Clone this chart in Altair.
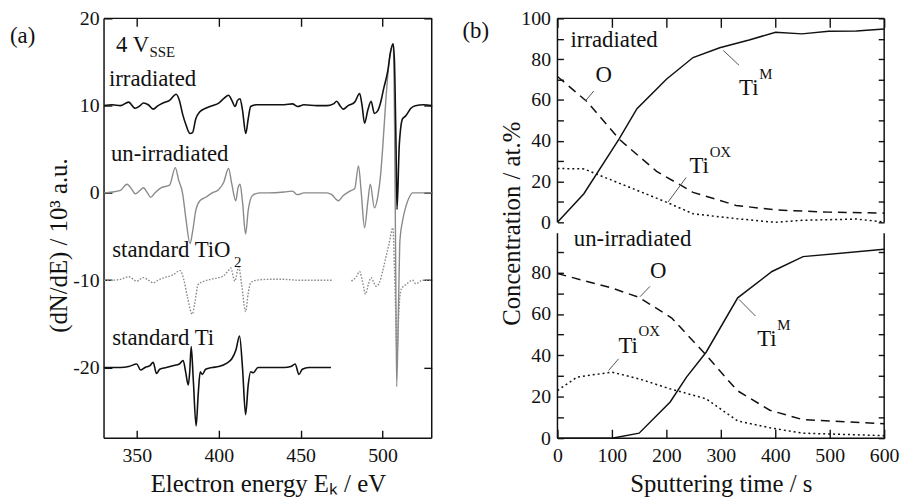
import altair as alt
import pandas as pd

FONT = "Liberation Serif"
INK = "#111111"
GRAY = "#8a8a8a"

# ---------------- panel (a): AES spectra (offset traces) ----------------
IRR_E = [330, 335, 340, 345, 349, 352, 354, 357, 360, 363, 366, 370, 374, 376, 378, 380, 382.5, 384, 386, 388.5,
         392, 396, 400, 403, 406, 408, 410, 411.5, 413, 414.5, 416.5, 418, 419.5, 423, 430, 440, 445, 448, 452, 460,
         466, 470, 472, 474, 476, 479, 483, 486, 487.5, 489, 491, 493, 495, 497, 499, 500.6, 503.2, 504.8, 506.4,
         507.2, 508.2, 508.8, 510.2, 512.2, 514, 517.3, 520, 525, 530]
IRR_V = [10.0, 10.1, 10.0, 10.4, 9.7, 10.0, 10.3, 10.1, 9.6, 10.0, 10.3, 10.6, 11.3, 10.6, 9.0, 7.8, 6.8, 6.9, 8.5, 9.3,
         9.7, 10.0, 10.3, 10.8, 11.2, 10.6, 9.9, 10.6, 10.8, 9.5, 6.8, 8.5, 9.9, 10.1, 10.1, 10.1, 10.2, 9.9, 10.1, 10.0,
         10.0, 10.2, 10.5, 10.0, 9.6, 10.0, 10.4, 11.4, 10.0, 8.0, 9.5, 10.5, 9.1, 9.4, 10.5, 11.9, 14.0, 16.1, 17.1,
         15.3, 5.5, -1.9, 5.5, 8.5, 8.8, 9.7, 10.0, 10.1, 10.0]

UN_E = [330, 335, 340, 344, 347, 349, 352, 354, 356.5, 358.5, 361, 365, 370, 373.5, 375.5, 378, 380, 382.5, 384, 386,
        388.5, 392, 396, 400, 403, 406, 408, 410.4, 411.8, 413, 414.5, 416.4, 418, 420.6, 425, 430, 440, 445, 448, 452,
        460, 466, 469, 473, 476, 480, 483, 485.3, 487, 489, 491, 492.5, 495, 497, 499, 500.2, 502.2, 504, 506.5, 507.3,
        508.0, 508.6, 509.8, 510.6, 512.2, 514.3, 516.3, 518.3, 525, 530]
UN_V = [0.0, 0.1, 0.3, 1.0, 0.4, -0.1, 0.3, 0.6, 0.0, -0.5, 0.0, 0.6, 0.9, 2.9, 1.5, -0.1, -3.0, -5.8, -4.5, -2.0,
        -0.9, -0.5, 0.0, 0.4, 1.2, 2.8, 1.0, -0.9, 0.6, 1.0, -1.0, -4.7, -2.0, -0.3, 0.0, 0.0, 0.1, 0.2, -0.2, 0.0,
        0.0, 0.0, -0.2, -0.9, -0.3, 0.2, 0.5, 3.1, 0.0, -4.0, -1.0, 1.0, -1.7, -0.5, 2.5, 5.5, 11.2, 15.0, 17.0, 8.0,
        -8.0, -22.2, -12.2, -5.4, -3.2, -1.5, -0.5, 0.0, 0.0, 0.0]

TIO2_E1 = [330, 335, 340, 345, 350, 354, 357, 360, 363, 367, 372, 376.5, 378.5, 381, 383.8, 385.5, 387.4, 390, 395, 400,
           403, 405.5, 407.3, 409.8, 412.2, 414, 416.4, 418, 419.5, 423, 430, 440, 448, 455, 462, 469]
TIO2_V1 = [-10.0, -10.0, -9.9, -9.6, -10.1, -9.7, -10.0, -10.3, -10.0, -9.7, -9.4, -8.9, -9.8, -12.0, -13.9, -12.5,
           -10.5, -10.2, -9.9, -9.7, -9.5, -9.0, -8.6, -10.1, -8.5, -10.5, -13.6, -11.5, -10.3, -10.0, -9.9, -9.9,
           -10.0, -10.0, -10.0, -10.0]
TIO2_E2 = [481, 484, 486, 487.8, 489.6, 491.3, 493, 494.5, 496, 498, 500, 502, 504, 506.3, 507.3, 508.2, 508.8, 509.6,
           510.5, 511.5, 514.3, 518.3, 520.3, 524.3, 530]
TIO2_V2 = [-10.1, -9.6, -9.0, -10.2, -11.6, -10.5, -9.7, -10.2, -10.7, -10.3, -9.0, -7.4, -5.8, -4.0, -9.0, -15.0,
           -18.5, -15.0, -12.0, -11.0, -10.5, -10.0, -10.4, -10.0, -10.0]

TI_E = [330, 335, 340, 345, 350, 352.3, 355, 358, 360, 362, 364, 368, 372, 376, 378.3, 379.8, 381.4, 382.3, 383.2,
        384.5, 386.2, 387.5, 388.7, 390, 392, 396, 400, 405, 408, 410.5, 412.7, 414.5, 416.4, 418, 419.5, 421, 424,
        430, 440, 444, 446.6, 449, 451, 455, 462, 468.5]
TI_V = [-20.0, -20.0, -20.0, -19.9, -19.6, -20.3, -20.0, -19.8, -19.4, -20.7, -20.2, -20.0, -19.8, -19.6, -19.2,
        -20.5, -22.0, -20.5, -17.6, -21.5, -26.7, -23.0, -20.5, -20.8, -20.2, -20.0, -19.9, -19.5, -19.0, -18.0,
        -16.4, -20.0, -25.4, -22.0, -20.5, -20.6, -20.0, -20.0, -20.0, -19.9, -19.6, -20.8, -20.2, -20.0, -20.0, -20.0]

A_X_TICKS = [350, 400, 450, 500]
A_Y_TICKS = [-20, -10, 0, 10, 20]
A_X_DOMAIN = [330, 530]
A_Y_DOMAIN = [-28.1, 20]

A_TEXT = ["4 V", "irradiated", "un-irradiated", "standard TiO", "standard Ti"]
A_TEXT_X = [337.3, 333.0, 334.2, 335.0, 335.0]
A_TEXT_Y = [16.9, 13.1, 4.4, -6.6, -16.6]
A_SUB = ["SSE", "2"]
A_SUB_X = [357.8, 409.3]
A_SUB_Y = [16.1, -7.9]

# ---------------- panel (b): depth profiles ----------------
UP_TIM_T = [0, 48.5, 113, 146, 200.6, 249, 298, 352, 400.6, 449, 498, 549, 600]
UP_TIM_V = [0, 14.0, 40.8, 55.7, 70.3, 80.8, 85.6, 89.4, 93.2, 92.4, 93.7, 93.8, 94.8]
UP_O_T = [0, 55, 114, 182, 249, 328, 400, 498, 600]
UP_O_V = [71.5, 59.0, 40.6, 25.0, 14.7, 8.3, 6.1, 5.0, 4.5]
UP_TIOX_T = [0, 49, 73, 134, 200, 249, 328, 400, 449, 549, 600]
UP_TIOX_V = [26.4, 26.2, 23.5, 17.0, 9.9, 4.2, 1.8, 0.0, 1.0, 1.6, 0.2]

LO_TIM_T = [0, 100, 150, 207, 237, 273, 331, 394, 451, 600]
LO_TIM_V = [0, 0, 2.4, 17.5, 29.5, 41.5, 67.8, 80.5, 87.7, 91.2]
LO_O_T = [0, 100, 150, 210, 270, 330, 390, 450, 600]
LO_O_V = [79.5, 72.5, 68.0, 58.0, 41.0, 23.0, 13.5, 9.0, 7.0]
LO_TIOX_T = [0, 36, 100, 149, 206, 273, 331, 394, 451, 600]
LO_TIOX_V = [23.0, 29.5, 31.9, 28.7, 23.9, 19.0, 8.3, 4.8, 2.4, 1.2]

B_X_TICKS = [0, 100, 200, 300, 400, 500, 600]
B_UP_Y_TICKS = [0, 10, 20, 30, 40, 50, 60, 70, 80, 90, 100]
B_LO_Y_TICKS = [0, 10, 20, 30, 40, 50, 60, 70, 80, 90]
B_X_DOMAIN = [0, 600]
B_UP_Y_DOMAIN = [0, 100]
B_LO_Y_DOMAIN = [0, 99]

UP_LEAD_X1 = [51.6, 304.4, 203.0]
UP_LEAD_Y1 = [59.6, 84.3, 9.9]
UP_LEAD_X2 = [66.7, 333.5, 236.4]
UP_LEAD_Y2 = [64.4, 77.0, 22.0]
LO_LEAD_X1 = [151.6, 333.5, 94.0]
LO_LEAD_Y1 = [68.3, 67.0, 32.7]
LO_LEAD_X2 = [169.8, 363.6, 112.2]
LO_LEAD_Y2 = [73.3, 59.0, 38.3]

UP_TEXT = ["irradiated", "O", "Ti", "Ti"]
UP_TEXT_X = [24, 70, 333.5, 242.5]
UP_TEXT_Y = [89.6, 72.1, 65.7, 27.6]
UP_SUP = ["M", "OX"]
UP_SUP_X = [370.5, 279.5]
UP_SUP_Y = [72.7, 34.7]
LO_TEXT = ["un-irradiated", "O", "Ti", "Ti"]
LO_TEXT_X = [30, 170, 366.7, 112]
LO_TEXT_Y = [96.0, 80.5, 47.8, 44.6]
LO_SUP = ["M", "OX"]
LO_SUP_X = [403.7, 149]
LO_SUP_Y = [54.8, 51.6]


def axis(orient, values, tick, labels=True, pad=5, title=None, **kw):
    a = dict(orient=orient, values=values, tickSize=tick, offset=-tick, domain=False,
             ticks=True, tickColor=INK, tickWidth=1.4, grid=False, labels=labels,
             labelFont=FONT, labelFontSize=20, labelColor=INK, labelPadding=pad,
             labelFlush=False, labelOverlap=False, title=title,
             titleFont=FONT, titleFontSize=25, titleFontWeight="normal", titleColor=INK)
    a.update(kw)
    return alt.Axis(**a)


def line(df, xs, ys, xaxis=None, yaxis=None, interp="linear", **mk):
    return alt.Chart(df).mark_line(interpolate=interp, **mk).encode(
        x=alt.X("x:Q", scale=xs, axis=xaxis),
        y=alt.Y("y:Q", scale=ys, axis=yaxis),
        detail="seg:N",
    )


def df_line(xv, yv, seg=0):
    return pd.DataFrame({"x": xv, "y": yv, "seg": seg})


def frame(xs, ys, xvals, yvals):
    lay = []
    if xvals:
        lay.append(alt.Chart(pd.DataFrame({"x": xvals})).mark_rule(color=INK, strokeWidth=1.5).encode(
            x=alt.X("x:Q", scale=xs, axis=None)))
    if yvals:
        lay.append(alt.Chart(pd.DataFrame({"y": yvals})).mark_rule(color=INK, strokeWidth=1.5).encode(
            y=alt.Y("y:Q", scale=ys, axis=None)))
    return lay


def texts(labels, xv, yv, xs, ys, size):
    df = pd.DataFrame({"x": xv, "y": yv, "t": labels})
    return alt.Chart(df).mark_text(align="left", baseline="middle", font=FONT, fontSize=size, color=INK).encode(
        x=alt.X("x:Q", scale=xs, axis=None), y=alt.Y("y:Q", scale=ys, axis=None), text="t:N")


def leaders(x1, y1, x2, y2, xs, ys):
    df = pd.DataFrame({"x": x1, "y": y1, "x2": x2, "y2": y2})
    return alt.Chart(df).mark_rule(color="#555555", strokeWidth=1).encode(
        x=alt.X("x:Q", scale=xs, axis=None), y=alt.Y("y:Q", scale=ys, axis=None), x2="x2:Q", y2="y2:Q")


def panel_label(txt, px, py):
    return alt.Chart(pd.DataFrame({"t": [txt]})).mark_text(
        align="left", baseline="middle", font=FONT, fontSize=23, color=INK).encode(
        x=alt.value(px), y=alt.value(py), text="t:N")


HYPHEN = "replace(datum.label, '\u2212', '-')"

# ---- panel (a)
XA = alt.Scale(domain=A_X_DOMAIN, nice=False, zero=False)
YA = alt.Scale(domain=A_Y_DOMAIN, nice=False, zero=False)

tio2_df = pd.concat([df_line(TIO2_E1, TIO2_V1, 0), df_line(TIO2_E2, TIO2_V2, 1)])
a_layers = frame(XA, YA, A_X_DOMAIN, A_Y_DOMAIN) + [
    line(tio2_df, XA, YA, interp="monotone", color=GRAY, strokeWidth=1.4, strokeDash=[1.6, 1.6]),
    line(df_line(UN_E, UN_V), XA, YA, interp="monotone", color=GRAY, strokeWidth=1.4),
    line(df_line(IRR_E, IRR_V), XA, YA, interp="monotone", color=INK, strokeWidth=1.6,
         xaxis=axis("bottom", A_X_TICKS, 8, pad=8, title="Electron energy Eₖ / eV", titlePadding=6),
         yaxis=axis("left", A_Y_TICKS, 8, pad=5, title="(dN/dE) / 10³ a.u.", labelExpr=HYPHEN,
                    titleX=-46, titleY=229, titleBaseline="alphabetic")),
    line(df_line(TI_E, TI_V), XA, YA, interp="monotone", color=INK, strokeWidth=1.6,
         xaxis=axis("top", A_X_TICKS, 8, labels=False),
         yaxis=axis("right", A_Y_TICKS, 8, labels=False)),
    texts(A_TEXT, A_TEXT_X, A_TEXT_Y, XA, YA, 23),
    texts(A_SUB, A_SUB_X, A_SUB_Y, XA, YA, 15),
    panel_label("(a)", -95, 18),
]
panel_a = alt.layer(*a_layers).resolve_axis(x="independent", y="independent").properties(width=331, height=424)

# ---- panel (b)
XB = alt.Scale(domain=B_X_DOMAIN, nice=False, zero=False)
YU = alt.Scale(domain=B_UP_Y_DOMAIN, nice=False, zero=False)
YL = alt.Scale(domain=B_LO_Y_DOMAIN, nice=False, zero=False)
LBL20 = "datum.value % 20 === 0 ? datum.label : ''"

up_layers = frame(XB, YU, B_X_DOMAIN, [100]) + [
    line(df_line(UP_TIOX_T, UP_TIOX_V), XB, YU, color=INK, strokeWidth=1.5, strokeDash=[2, 3]),
    line(df_line(UP_O_T, UP_O_V), XB, YU, color=INK, strokeWidth=1.5, strokeDash=[9, 6],
         yaxis=axis("right", B_UP_Y_TICKS, 6, labels=False)),
    line(df_line(UP_TIM_T, UP_TIM_V), XB, YU, color=INK, strokeWidth=1.5,
         xaxis=axis("top", B_X_TICKS, 9, labels=False),
         yaxis=axis("left", B_UP_Y_TICKS, 6, pad=7, labelExpr=LBL20,
                    title="Concentration / at.%", titleX=-44, titleY=207, titleBaseline="alphabetic")),
    leaders(UP_LEAD_X1, UP_LEAD_Y1, UP_LEAD_X2, UP_LEAD_Y2, XB, YU),
    texts(UP_TEXT, UP_TEXT_X, UP_TEXT_Y, XB, YU, 23),
    texts(UP_SUP, UP_SUP_X, UP_SUP_Y, XB, YU, 15),
    panel_label("(b)", -96, 13),
]
upper = alt.layer(*up_layers).resolve_axis(x="independent", y="independent").properties(width=330, height=206)

lo_layers = frame(XB, YL, B_X_DOMAIN, [0]) + [
    line(df_line(LO_TIOX_T, LO_TIOX_V), XB, YL, color=INK, strokeWidth=1.5, strokeDash=[2, 3]),
    line(df_line(LO_O_T, LO_O_V), XB, YL, color=INK, strokeWidth=1.5, strokeDash=[9, 6],
         yaxis=axis("right", B_LO_Y_TICKS, 6, labels=False)),
    line(df_line(LO_TIM_T, LO_TIM_V), XB, YL, color=INK, strokeWidth=1.5,
         xaxis=axis("bottom", B_X_TICKS, 9, pad=8, title="Sputtering time / s", titlePadding=6),
         yaxis=axis("left", B_LO_Y_TICKS, 6, pad=7, labelExpr=LBL20)),
    leaders(LO_LEAD_X1, LO_LEAD_Y1, LO_LEAD_X2, LO_LEAD_Y2, XB, YL),
    texts(LO_TEXT, LO_TEXT_X, LO_TEXT_Y, XB, YL, 23),
    texts(LO_SUP, LO_SUP_X, LO_SUP_Y, XB, YL, 15),
]
lower = alt.layer(*lo_layers).resolve_axis(x="independent", y="independent").properties(width=330, height=207)

panel_b = alt.vconcat(upper, lower, spacing=11, bounds="flush")

chart = alt.hconcat(panel_a, panel_b, spacing=127, bounds="flush").properties(
    padding={"left": 2, "top": -2, "right": 2, "bottom": 2},
    background="white",
).configure(font=FONT).configure_axis(
    labelFont=FONT, titleFont=FONT
).configure_text(font=FONT).configure_view(strokeOpacity=0)

chart.save("out.html", embed_options={"renderer": "svg", "actions": False})
